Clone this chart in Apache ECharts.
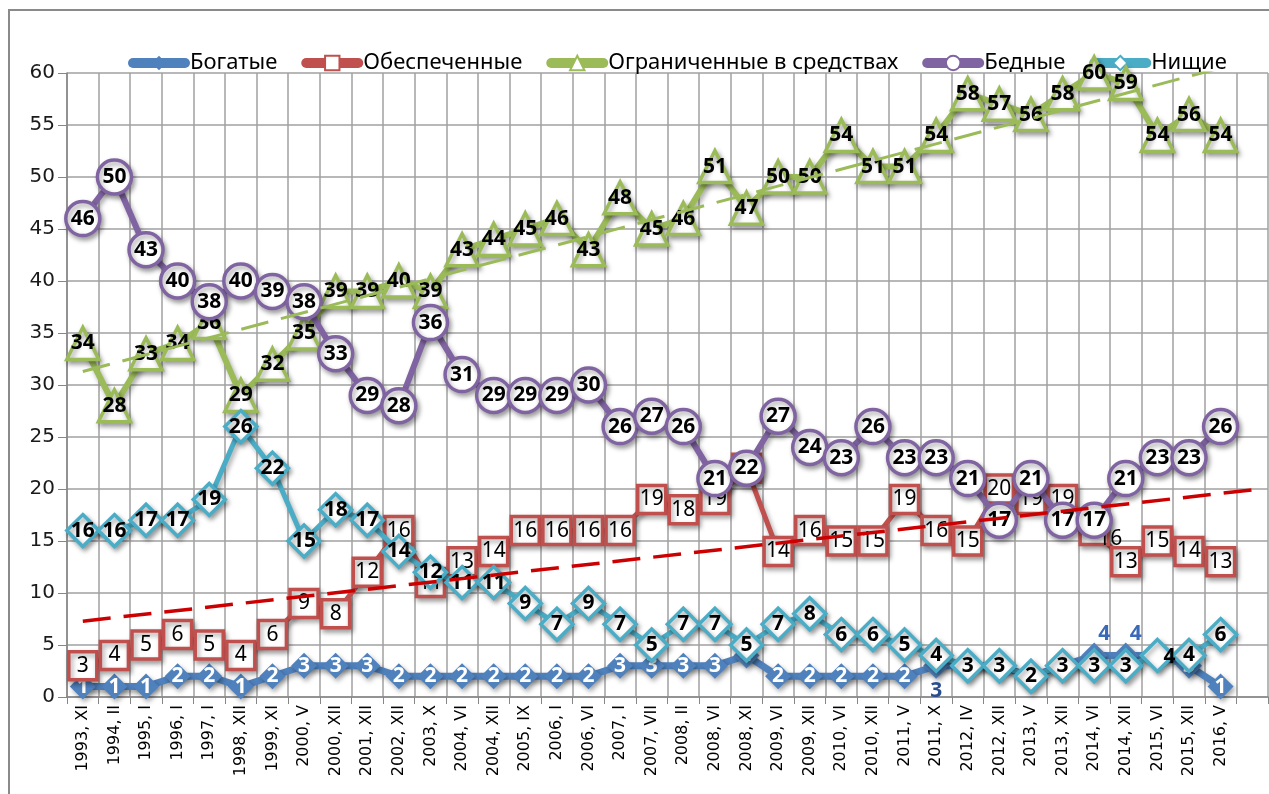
<!DOCTYPE html>
<html>
<head>
<meta charset="utf-8">
<script src="https://cdn.jsdelivr.net/npm/echarts@6/dist/echarts.min.js"></script>
<style>
  html, body { margin: 0; padding: 0; background: #fff; }
  #chart { width: 1269px; height: 794px; }
</style>
</head>
<body>
<div id="chart"></div>
<script>
// categories (survey waves), last one is the empty forecast slot of the trend lines
const categories = ['1993, XI','1994, II','1995, I','1996, I','1997, I','1998, XII','1999, XI','2000, V',
  '2000, XII','2001, XII','2002, XII','2003, X','2004, VI','2004, XII','2005, IX','2006, I','2006, VI',
  '2007, I','2007, VII','2008, II','2008, VI','2008, XI','2009, VI','2009, XII','2010, VI','2010, XII',
  '2011, V','2011, X','2012, IV','2012, XII','2013, V','2013, XII','2014, VI','2014, XII','2015, VI',
  '2015, XII','2016, V',''];

const rich    = [1,1,1,2,2,1,2,3,3,3,2,2,2,2,2,2,2,3,3,3,3,4,2,2,2,2,2,3,3,3,2,3,4,4,4,3,1];
const wealthy = [3,4,5,6,5,4,6,9,8,12,16,11,13,14,16,16,16,16,19,18,19,22,14,16,15,15,19,16,15,20,19,19,16,13,15,14,13];
const limited = [34,28,33,34,36,29,32,35,39,39,40,39,43,44,45,46,43,48,45,46,51,47,50,50,54,51,51,54,58,57,56,58,60,59,54,56,54];
const poor    = [46,50,43,40,38,40,39,38,33,29,28,36,31,29,29,29,30,26,27,26,21,22,27,24,23,26,23,23,21,17,21,17,17,21,23,23,26];
const beggars = [16,16,17,17,19,26,22,15,18,17,14,12,11,11,9,7,9,7,5,7,7,5,7,8,6,6,5,4,3,3,2,3,3,3,4,4,6];

const yTicks = { min: 0, max: 60, step: 5 };

// linear trend (Excel-style), extended one period forward
function trend(vals, n) {
  const m = vals.length;
  let sx = 0, sy = 0, sxx = 0, sxy = 0;
  vals.forEach((v, i) => { sx += i; sy += v; sxx += i * i; sxy += i * v; });
  const b = (m * sxy - sx * sy) / (m * sxx - sx * sx);
  const a = (sy - b * sx) / m;
  return [[0, a], [n - 1, a + b * (n - 1)]];
}

const shadow = { shadowColor: 'rgba(0,0,0,0.35)', shadowBlur: 5, shadowOffsetX: 2, shadowOffsetY: 3 };
const labelBase = { show: true, position: 'inside', fontFamily: 'Noto Sans', fontSize: 21, fontWeight: 'bold', color: '#000' };

function line(name, data, color, symbol, size, fill, width, label, z) {
  return {
    name: name, type: 'line', data: data, z: z,
    symbol: symbol, symbolSize: size, showAllSymbol: true,
    lineStyle: Object.assign({ color: color, width: width }, shadow),
    itemStyle: Object.assign({ color: fill, borderColor: color, borderWidth: fill === color ? 0 : 3.5 }, shadow),
    label: Object.assign({}, labelBase, label),
    emphasis: { disabled: true },
    animation: false
  };
}

const richData = rich.map((v, i) => {
  if (i === 27) return { value: v, label: { position: 'bottom', distance: 2, color: '#2b4f8e' } };
  if (i === 32 || i === 33) return { value: v, label: { position: 'top', distance: -2, color: '#3b69b8', offset: [10, 0] } };
  return v;
});
const wealthyData = wealthy.map((v, i) => i === 32 ? { value: v, label: { offset: [16, 8] } } : v);
const beggarsData = beggars.map((v, i) => i === 34 ? { value: v, label: { offset: [12, 2] } } : v);

const chart = echarts.init(document.getElementById('chart'));
chart.setOption({
  backgroundColor: '#fff',
  animation: false,
  graphic: [{
    type: 'rect', shape: { x: 9, y: 10, width: 1300, height: 820 },
    style: { fill: 'none', stroke: '#8a8a8a', lineWidth: 2 }, z: -10, silent: true
  }],
  legend: {
    data: ['Богатые', 'Обеспеченные', 'Ограниченные в средствах', 'Бедные', 'Нищие'],
    left: 128, top: 52, padding: 0, itemWidth: 52, itemHeight: 18, itemGap: 24,
    lineStyle: { width: 10, cap: 'round' },
    textStyle: { fontFamily: 'Noto Sans', fontSize: 22, color: '#000' }
  },
  grid: { left: 67, right: 1, top: 73, bottom: 97, containLabel: false },
  xAxis: {
    type: 'category', data: categories, boundaryGap: true,
    axisLine: { lineStyle: { color: '#868686', width: 1.5 } },
    axisTick: { show: true, interval: 0, length: 7, lineStyle: { color: '#868686' } },
    splitLine: { show: true, interval: 0, lineStyle: { color: '#a0a0a0', width: 1.5 } },
    axisLabel: { interval: 0, rotate: 90, margin: 8, fontFamily: 'DejaVu Sans', fontSize: 16, color: '#000' }
  },
  yAxis: {
    type: 'value', min: yTicks.min, max: yTicks.max, interval: yTicks.step,
    axisLine: { show: true, lineStyle: { color: '#868686', width: 1.5 } },
    axisTick: { show: true, length: 9, lineStyle: { color: '#868686' } },
    splitLine: { lineStyle: { color: '#a0a0a0', width: 1.5 } },
    axisLabel: { margin: 12, fontFamily: 'DejaVu Sans', fontSize: 20, color: '#1a1a1a' }
  },
  series: [
    line('Богатые', richData, '#4F81BD', 'diamond', 26, '#4F81BD', 7, { color: '#fff' }, 2),
    line('Обеспеченные', wealthyData, '#C0504D', 'rect', 28, '#fff', 5, { fontWeight: 'normal' }, 3),
    line('Ограниченные в средствах', limited, '#9BBB59', 'triangle', 32, '#fff', 6, {}, 4),
    line('Бедные', poor, '#8064A2', 'circle', 34, '#fff', 6, {}, 5),
    line('Нищие', beggarsData, '#4BACC6', 'diamond', 32, '#fff', 5, {}, 6),
    {
      name: 'trendWealthy', type: 'line', data: trend(wealthy, categories.length), z: 7,
      symbol: 'none', silent: true, animation: false,
      lineStyle: { color: '#CC0000', width: 3.5, type: [28, 13] }
    },
    {
      name: 'trendLimited', type: 'line', data: trend(limited, categories.length), z: 7,
      symbol: 'none', silent: true, animation: false, clip: true,
      lineStyle: { color: '#9BBB59', width: 3, type: [28, 13] }
    }
  ]
});
</script>
</body>
</html>
